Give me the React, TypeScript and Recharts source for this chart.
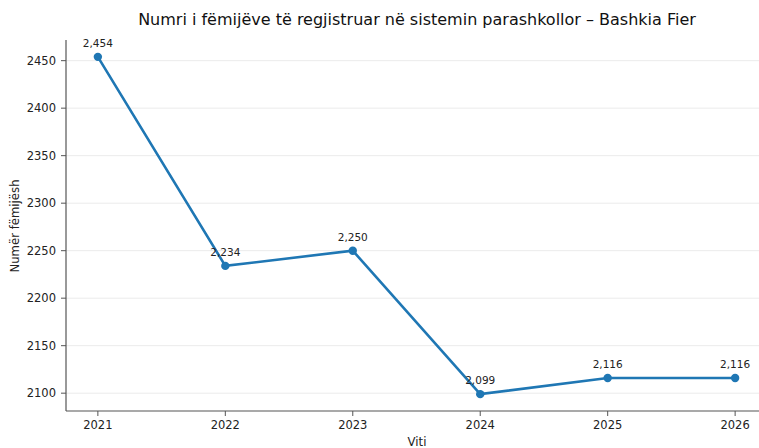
import React from "react";
import { LineChart, Line, XAxis, YAxis, ReferenceLine, LabelList } from "recharts";

const years = [2021, 2022, 2023, 2024, 2025, 2026];
const children = [2454, 2234, 2250, 2099, 2116, 2116];
const yTicks = [2100, 2150, 2200, 2250, 2300, 2350, 2400, 2450];
const title = "Numri i fëmijëve të regjistruar në sistemin parashkollor – Bashkia Fier";
const xLabel = "Viti";
const yLabel = "Numër fëmijësh";

const data = years.map((y, i) => ({ year: y, value: children[i] }));

const FONT = "'DejaVu Sans', sans-serif";
const BLUE = "#1f77b4";
const AXIS = "#555555";

const fmt = (v: number) => v.toLocaleString("en-US");

const ValueLabel = (props: any) => {
  const { x, y, value } = props;
  return (
    <text x={x} y={y - 10} textAnchor="middle" fontFamily={FONT} fontSize={10.5} fill="#222">
      {fmt(value)}
    </text>
  );
};

export default function App() {
  return (
    <div style={{ position: "absolute", left: 0, top: 0, width: 759, height: 448, overflow: "hidden", background: "#fff" }}>
      <div
        style={{
          position: "absolute",
          left: 417,
          top: 19,
          transform: "translate(-50%, -50%)",
          whiteSpace: "nowrap",
          fontFamily: FONT,
          fontSize: 16,
          color: "#111",
        }}
      >
        {title}
      </div>
      <div
        style={{
          position: "absolute",
          left: 15,
          top: 226,
          transform: "translate(-50%, -50%) rotate(-90deg)",
          whiteSpace: "nowrap",
          fontFamily: FONT,
          fontSize: 11.7,
          color: "#222",
        }}
      >
        {yLabel}
      </div>
      <div
        style={{
          position: "absolute",
          left: 417,
          top: 442,
          transform: "translate(-50%, -50%)",
          whiteSpace: "nowrap",
          fontFamily: FONT,
          fontSize: 11.7,
          color: "#222",
        }}
      >
        {xLabel}
      </div>
      <LineChart width={780} height={448} data={data} margin={{ top: 40, right: 13, bottom: 0, left: 0 }}>
        <XAxis
          dataKey="year"
          type="number"
          domain={[2020.75, 2026.25]}
          ticks={years}
          height={37}
          tickSize={5}
          tickMargin={5}
          stroke={AXIS}
          axisLine={{ stroke: AXIS, strokeWidth: 1.2 }}
          tickLine={{ stroke: AXIS }}
          tick={{ fontFamily: FONT, fontSize: 11.5, fill: "#222" }}
          allowDecimals={false}
        />
        <YAxis
          type="number"
          domain={[2081.25, 2471.75]}
          ticks={yTicks}
          width={66}
          tickSize={5}
          tickMargin={5}
          stroke={AXIS}
          axisLine={{ stroke: AXIS, strokeWidth: 1.2 }}
          tickLine={{ stroke: AXIS }}
          tick={{ fontFamily: FONT, fontSize: 11.5, fill: "#222" }}
          allowDataOverflow
        />
        {yTicks.map((t) => (
          <ReferenceLine key={t} y={t} stroke="#ebebeb" strokeWidth={1} />
        ))}
        <Line
          dataKey="value"
          stroke={BLUE}
          strokeWidth={2.6}
          dot={{ r: 4.2, fill: BLUE, stroke: BLUE, strokeWidth: 0 }}
          isAnimationActive={false}
          type="linear"
        >
          <LabelList dataKey="value" content={ValueLabel} />
        </Line>
      </LineChart>
    </div>
  );
}
